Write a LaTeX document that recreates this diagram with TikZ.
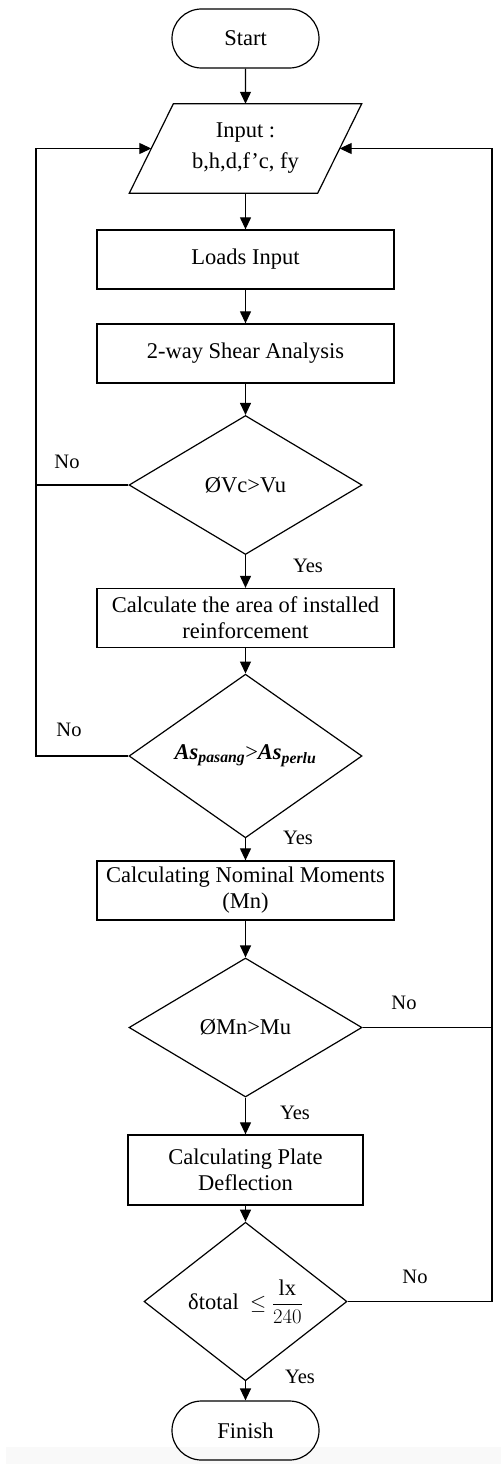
\documentclass[tikz,border=0pt]{standalone}
\usepackage{fontspec}
\setmainfont{Liberation Serif}
\usetikzlibrary{shapes.geometric,shapes.misc,arrows.meta,calc}
\begin{document}
\begin{tikzpicture}[x=1pt,y=-1pt,
  every node/.style={font=\fontsize{22.5}{26}\selectfont},
  term/.style={rounded rectangle,draw,line width=1.2pt,minimum width=147pt,minimum height=59pt,inner sep=0pt},
  proc/.style={rectangle,draw,line width=1.3pt,minimum height=59pt,minimum width=297pt,align=center,inner sep=0pt},
  dec/.style={diamond,draw,line width=1.2pt,minimum width=233pt,minimum height=139pt,inner sep=0pt,align=center},
  lbl/.style={font=\fontsize{20.5}{22}\selectfont,inner sep=0pt},
  arr/.style={line width=1.2pt,-{Triangle[width=11pt,length=12pt]}},
  lin/.style={line width=1.2pt}]
\useasboundingbox (0,0) rectangle (501,1464);
\fill[gray!5] (6,1447) rectangle (501,1464);

\node[term] (start) at (245.5,38.5) {Start};
\node[align=center,minimum width=188pt,minimum height=89pt,inner sep=0pt,font=\fontsize{22.5}{31}\selectfont] (in) at (245.5,148.5) {Input :\\b,h,d,f’c, fy};
\draw[lin] ([xshift=22pt]in.north west) -- ([xshift=22pt]in.north east) -- ([xshift=-22pt]in.south east) -- ([xshift=-22pt]in.south west) -- cycle;
\node[proc] (loads) at (245.5,259.5) {Loads Input};
\node[proc] (shear) at (245.5,353.5) {2-way Shear Analysis};
\node[dec] (d1) at (245.5,485) {ØVc>Vu};
\node[proc] (area) at (245.5,618) {Calculate the area of installed\\reinforcement};
\node[dec] (d2) at (245.5,756) {\textbf{\textit{As}}\textsubscript{\textbf{\textit{pasang}}}>\textbf{\textit{As}}\textsubscript{\textbf{\textit{perlu}}}};
\node[proc] (mn) at (245.5,890.5) {Calculating Nominal Moments\\(Mn)};
\node[dec] (d3) at (245.5,1027.5) {ØMn>Mu};
\node[proc,minimum width=235pt,minimum height=70pt] (defl) at (245.5,1170) {Calculating Plate\\Deflection};
\node[dec,minimum width=203pt,minimum height=121pt] (d4) at (245.5,1301.5) {δtotal\ \ $\displaystyle\leq\frac{\mathrm{lx}}{240}$};
\node[term] (fin) at (245.5,1430.5) {Finish};

\draw[arr] (start) -- (in.north);
\draw[arr] (in.south) -- (loads);
\draw[arr] (loads) -- (shear);
\draw[arr] (shear) -- (d1);
\draw[arr] (d1) -- (area);
\draw[arr] (area) -- (d2);
\draw[arr] (d2) -- (mn);
\draw[arr] (mn) -- (d3);
\draw[arr] (d3) -- (defl);
\draw[arr] (defl) -- (d4);
\draw[arr] (d4) -- (fin);

\coordinate (L) at (36,148.5);
\coordinate (R) at (492,148.5);
\draw[arr] (d2.west) -| (L) -- (in.west);
\draw[lin] (d1.west) -- (d1.west -| L);
\draw[arr] (d4.east) -| (R) -- (in.east);
\draw[lin] (d3.east) -- (d3.east -| R);

\node[lbl] (no1) at (67,462) {No};
\node[lbl] (no2) at (69,730) {No};
\node[lbl] (no3) at (404,1003) {No};
\node[lbl] (no4) at (415,1277) {No};
\node[lbl] (yes1) at (308,566) {Yes};
\node[lbl] (yes2) at (298,838) {Yes};
\node[lbl] (yes3) at (295,1113) {Yes};
\node[lbl] (yes4) at (300,1377) {Yes};
\end{tikzpicture}
\end{document}
